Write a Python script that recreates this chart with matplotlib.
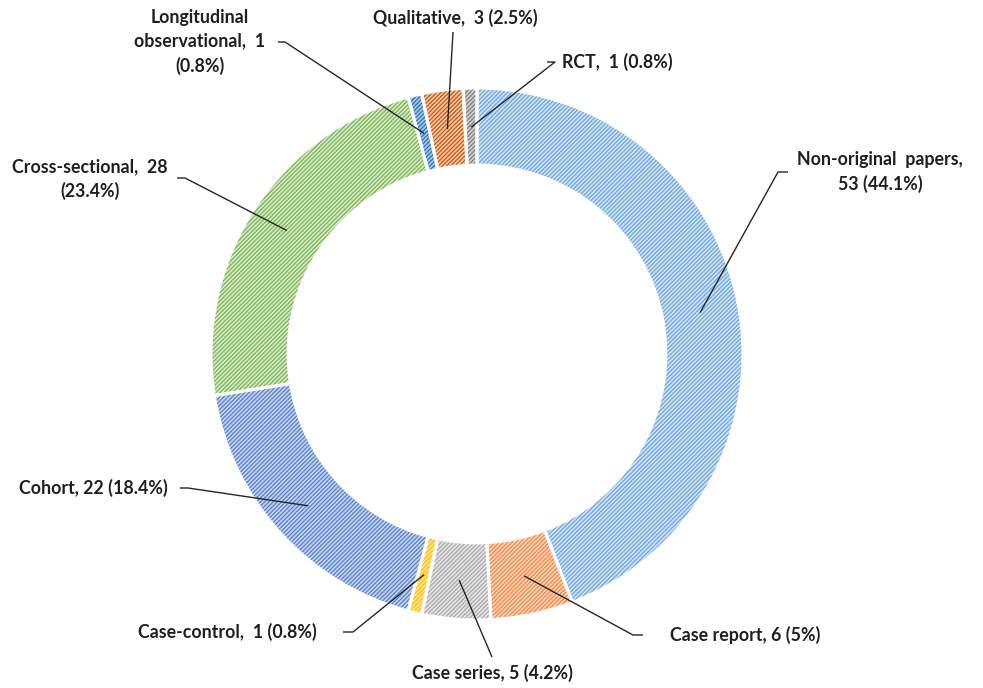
import numpy as np
import matplotlib.pyplot as plt

plt.rcParams['font.family'] = ['Lato', 'DejaVu Sans']
plt.rcParams['hatch.linewidth'] = 0.9

# data, read clockwise from 12 o'clock
categories = ['Non-original papers', 'Case report', 'Case series', 'Case-control',
              'Cohort', 'Cross-sectional', 'Longitudinal observational',
              'Qualitative', 'RCT']
counts = [53, 6, 5, 1, 22, 28, 1, 3, 1]
pct_labels = ['44.1%', '5%', '4.2%', '0.8%', '18.4%', '23.4%', '0.8%', '2.5%', '0.8%']

face_colors = ['#cfe1f3', '#fad3b9', '#e2e2e2', '#ffe49a', '#c6d3ee',
               '#d4e8c6', '#a9c5e6', '#f4c6a8', '#d0d0d0']
line_colors = ['#6fa8dc', '#ef8a45', '#adadad', '#ffc000', '#5580cc',
               '#7cb556', '#2e75b6', '#c55a11', '#7f7f7f']

# label text as shown, and layout in pixel coordinates (y measured from top)
label_texts = ['Non-original  papers,\n53 (44.1%)',
               'Case report, 6 (5%)',
               'Case series, 5 (4.2%)',
               'Case-control,  1 (0.8%)',
               'Cohort, 22 (18.4%)',
               'Cross-sectional,  28\n(23.4%)',
               'Longitudinal\nobservational,  1\n(0.8%)',
               'Qualitative,  3 (2.5%)',
               'RCT,  1 (0.8%)']
label_xy = [(880, 172), (670, 635), (492, 673), (227, 632), (93, 488),
            (90, 179), (200, 42), (455, 18), (562, 62)]
label_ha = ['center', 'left', 'center', 'center', 'center',
            'center', 'center', 'center', 'left']
# leader line path near the text: (elbow, tail end); None elbow -> straight line
leader_elbow = [(778, 172), (633, 635), None, (353, 632), (188, 488),
                (185, 178), (285, 42), None, (555, 62)]
leader_end = [(788, 172), (643, 635), (492, 657), (343, 632), (180, 488),
              (177, 178), (278, 42), (453, 32), (547, 62)]

W, H = 983, 688
cx, cy = 477, H - 354
R = 266
ring = 0.29 * R


def flip(p):
    return (p[0], H - p[1])


fig = plt.figure(figsize=(W / 100, H / 100), dpi=100)
ax = fig.add_axes([0, 0, 1, 1])

# base faces
wedges, _ = ax.pie(counts, colors=face_colors, startangle=90, counterclock=False,
                   center=(cx, cy), radius=R,
                   wedgeprops=dict(width=ring, linewidth=0))
# hatch overlay
hw, _ = ax.pie(counts, colors=['none'] * len(counts), startangle=90, counterclock=False,
               center=(cx, cy), radius=R,
               wedgeprops=dict(width=ring, linewidth=0))
for w, c in zip(hw, line_colors):
    w.set_facecolor('none')
    w.set_edgecolor(c)
    w.set_hatch('////////')
# white separators
sw, _ = ax.pie(counts, colors=['none'] * len(counts), startangle=90, counterclock=False,
               center=(cx, cy), radius=R,
               wedgeprops=dict(width=ring, linewidth=2.2, edgecolor='white'))
for w in sw:
    w.set_facecolor('none')

# labels and leader lines
for i, w in enumerate(wedges):
    mid = np.deg2rad((w.theta1 + w.theta2) / 2)
    r_anchor = 0.853 * R
    ax_pt = (cx + r_anchor * np.cos(mid), cy + r_anchor * np.sin(mid))
    pts = [ax_pt]
    if leader_elbow[i] is not None:
        pts.append(flip(leader_elbow[i]))
    pts.append(flip(leader_end[i]))
    xs, ys = zip(*pts)
    ax.plot(xs, ys, color='#262626', linewidth=1.0, solid_capstyle='butt')
    tx, ty = flip(label_xy[i])
    ax.text(tx, ty, label_texts[i], ha=label_ha[i], va='center',
            fontsize=12.8, fontweight='bold', color='#1f1f1f', linespacing=1.45)

ax.set_xlim(0, W)
ax.set_ylim(0, H)
ax.set_aspect('auto')
ax.axis('off')

fig.savefig('out.png', dpi=100, facecolor='white')
